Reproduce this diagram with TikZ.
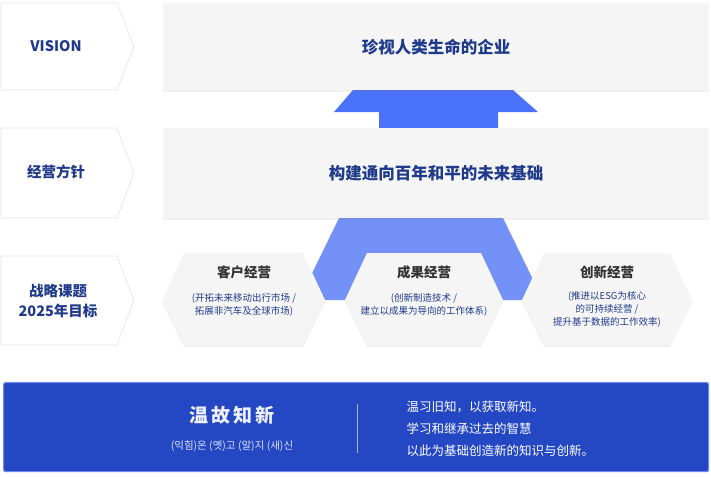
\documentclass[tikz,border=0pt]{standalone}
\usepackage{fontspec}
\setmainfont{Noto Sans CJK SC}
\newfontfamily\kr{Noto Sans CJK KR}
\usetikzlibrary{shadows}
\definecolor{navy}{HTML}{1F3A8A}
\definecolor{boxg}{HTML}{F5F5F6}
\definecolor{brd}{HTML}{E2E4E8}
\definecolor{bluA}{HTML}{4A72FB}
\definecolor{bluB}{HTML}{7391F7}
\definecolor{deep}{HTML}{2447C4}
\definecolor{deepb}{HTML}{6A8AF0}
\definecolor{txt}{HTML}{333333}
\tikzset{
 lab/.style={font=\bfseries\fontsize{14.5}{20}\selectfont, text=navy, align=center},
 topbox/.style={fill=boxg, draw=none, drop shadow={opacity=0.12,shadow xshift=0pt,shadow yshift=-2pt}},
 hexs/.style={fill=boxg, draw=none, drop shadow={opacity=0.12,shadow xshift=0pt,shadow yshift=-2pt}},
 htitle/.style={font=\bfseries\fontsize{13.5}{16}\selectfont, text=txt},
 hsub/.style={font=\fontsize{9.5}{13}\selectfont, text=navy, align=center},
 arrowshape/.style={fill=white, draw=brd, line width=0.6pt},
}
\begin{document}
\begin{tikzpicture}[x=1pt,y=-1pt]
\useasboundingbox (0,0) rectangle (711,476);
% left labels
\foreach \t/\b/\n in {3/90/a,128/218/b,256/345/c}{
  \path[arrowshape] (1,\t) -- (117,\t) -- (134,{(\t+\b)/2}) -- (117,\b) -- (1,\b) -- cycle;
}
\node[lab] (la) at (56,46) {VISION};
\node[lab] (lb) at (56,172) {经营方针};
\node[lab] (lc) at (58,301) {战略课题\\2025年目标};
% blue connectors
\path[fill=bluB] (340,216) -- (502,216) -- (543,300) -- (299,300) -- cycle;
\path[fill=bluA] (379,130) -- (379,112) -- (334,112) -- (353,90) -- (513,90) -- (538,112) -- (498,112) -- (498,130) -- cycle;
% top boxes
\node[topbox, minimum width=546pt, minimum height=87pt, anchor=north west] (v) at (163,3) {};
\node[font=\bfseries\fontsize{16.5}{20}\selectfont, text=navy] (vt) at (v.center) {珍视人类生命的企业};
\node[topbox, minimum width=546pt, minimum height=90pt, anchor=north west] (p) at (163,128) {};
\node[font=\bfseries\fontsize{16.5}{20}\selectfont, text=navy] (pt) at (p.center) {构建通向百年和平的未来基础};
% hexagons
\foreach \l/\r in {162/325,345/503,522/692}{
  \path[hexs] (\l,300) -- ({\l+22},253) -- ({\r-22},253) -- (\r,300) -- ({\r-22},345) -- ({\l+22},345) -- cycle;
}
\node[htitle] (h1) at (244,272) {客户经营};
\node[hsub] (s1) at (244,305) {(开拓未来移动出行市场 /\\拓展非汽车及全球市场)};
\node[htitle] (h2) at (424,272) {成果经营};
\node[hsub] (s2) at (424,305) {(创新制造技术 /\\建立以成果为导向的工作体系)};
\node[htitle] (h3) at (607,272) {创新经营};
\node[hsub] (s3) at (607,309) {(推进以ESG为核心\\的可持续经营 /\\提升基于数据的工作效率)};
% bottom
\node[fill=deep, draw=deepb, line width=1.2pt, rounded corners=2pt, minimum width=705pt, minimum height=89pt, anchor=north west] (bt) at (3,382) {};
\draw[white!60!deep, line width=0.6pt] (357,404) -- (357,453);
\node[font=\bfseries\fontsize{19}{22}\selectfont, text=white!92!deep] (w) at (232,415) {温\,故\,知\,新};
\node[font=\kr\fontsize{10.5}{12}\selectfont, text=white!85!deep] (k) at (232,446) {(익힘)온 (옛)고 (알)지 (새)신};
\node[font=\fontsize{12.5}{22}\selectfont, text=white, align=left, anchor=north west] (r) at (403,397) {温习旧知，以获取新知。\\学习和继承过去的智慧\\以此为基础创造新的知识与创新。};
\end{tikzpicture}
\end{document}
